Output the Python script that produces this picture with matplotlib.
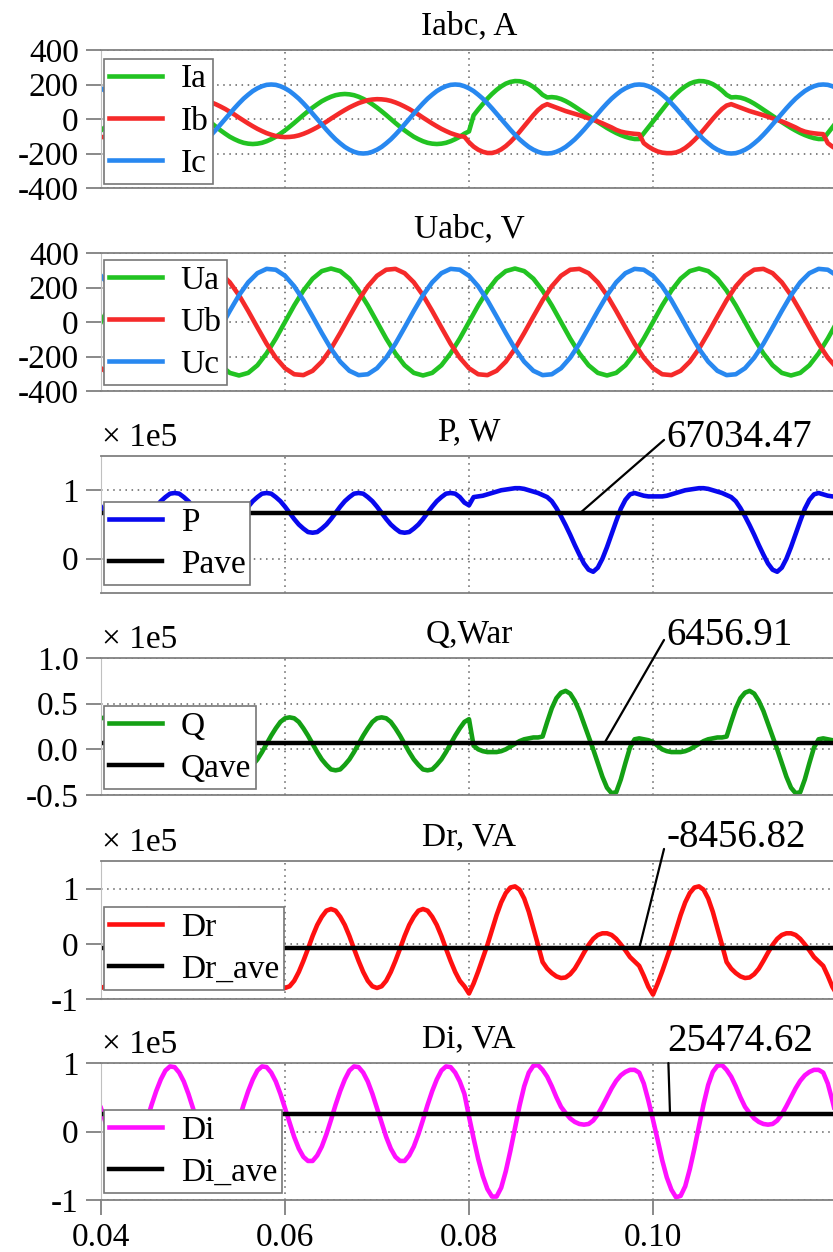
import numpy as np
import matplotlib
matplotlib.use("Agg")
import matplotlib.pyplot as plt

plt.rcParams['font.family'] = ['Liberation Serif', 'DejaVu Serif']
plt.rcParams['axes.unicode_minus'] = False

# time bases (s)
t = np.linspace(0.04, 0.12, 161)     # 0.5 ms step
t_u = np.linspace(0.04, 0.12, 81)    # 1 ms step

# ---- phase currents, A (0.5 ms step) ----
ia = [-66, -45, -23, 0, 23, 45, 66, 85, 103, 117, 129, 138, 143, 145, 143, 138, 129, 117, 103, 85,
      66, 45, 23, 0, -23, -45, -66, -85, -103, -117, -129, -138, -143, -145, -143, -138, -129, -117, -103, -85,
      -66, -45, -23, 0, 23, 45, 66, 85, 103, 117, 129, 138, 143, 145, 143, 138, 129, 117, 103, 85,
      66, 45, 23, 0, -23, -45, -66, -85, -103, -117, -129, -138, -143, -145, -143, -138, -129, -117, -103, -85,
      -72,
      21, 55, 87, 118, 145, 169, 189, 205, 215, 220, 219, 213, 202, 186, 165, 140, 125, 127, 124, 116,
      104, 89, 72, 54, 36, 18, 0, -18, -35, -52, -67, -81, -93, -103, -111, -116, -116, -82, -48, -14,
      21, 55, 87, 118, 145, 169, 189, 205, 215, 220, 219, 213, 202, 186, 165, 140, 125, 127, 124, 116,
      104, 89, 72, 54, 36, 18, 0, -18, -35, -52, -67, -81, -93, -103, -111, -116, -116, -82, -48, -14]

ib = [-105, -104, -101, -95, -86, -75, -62, -48, -32, -16, 2, 19, 36, 52, 67, 80, 92, 101, 109, 113,
      115, 114, 111, 105, 96, 85, 72, 58, 42, 26, 8, -9, -26, -42, -57, -70, -82, -91, -99, -103,
      -105, -104, -101, -95, -86, -75, -62, -48, -32, -16, 2, 19, 36, 52, 67, 80, 92, 101, 109, 113,
      115, 114, 111, 105, 96, 85, 72, 58, 42, 26, 8, -9, -26, -42, -57, -70, -82, -91, -99, -103,
      -135, -160, -178, -190, -197, -197, -190, -176, -157, -133, -105, -74, -42, -9, 23, 52, 74, 86,
      76, 66, 56, 46, 38, 30, 22, 13, 4, -5, -14, -25, -37, -49, -63, -73, -79, -83, -86, -88,
      -140, -160, -176, -188, -195, -198, -198, -194, -184, -168, -147, -122, -94, -63, -31, 1, 31, 58, 78, 86,
      76, 66, 56, 46, 38, 30, 22, 13, 4, -5, -14, -25, -37, -49, -63, -73, -79, -83, -86, -88,
      -140, -160, -176]

ic = [178, 162, 141, 118, 91, 62, 31, 0, -31, -62, -91, -118, -141, -162, -178, -190, -198, -200, -198, -190,
      -178, -162, -141, -118, -91, -62, -31, 0, 31, 62, 91, 118, 141, 162, 178, 190, 198, 200, 198, 190,
      178, 162, 141, 118, 91, 62, 31, 0, -31, -62, -91, -118, -141, -162, -178, -190, -198, -200, -198, -190,
      -178, -162, -141, -118, -91, -62, -31, 0, 31, 62, 91, 118, 141, 162, 178, 190, 198, 200, 198, 190,
      178, 162, 141, 118, 91, 62, 31, 0, -31, -62, -91, -118, -141, -162, -178, -190, -198, -200, -198, -190,
      -178, -162, -141, -118, -91, -62, -31, 0, 31, 62, 91, 118, 141, 162, 178, 190, 198, 200, 198, 190,
      178, 162, 141, 118, 91, 62, 31, 0, -31, -62, -91, -118, -141, -162, -178, -190, -198, -200, -198, -190,
      -178, -162, -141, -118, -91, -62, -31, 0, 31, 62, 91, 118, 141, 162, 178, 190, 198, 200, 198, 190,
      178]

# ---- phase voltages, V (1 ms step) ----
ua = [0, 96, 182, 251, 295, 310, 295, 251, 182, 96, 0, -96, -182, -251, -295, -310, -295, -251, -182, -96,
      0, 96, 182, 251, 295, 310, 295, 251, 182, 96, 0, -96, -182, -251, -295, -310, -295, -251, -182, -96,
      0, 96, 182, 251, 295, 310, 295, 251, 182, 96, 0, -96, -182, -251, -295, -310, -295, -251, -182, -96,
      0, 96, 182, 251, 295, 310, 295, 251, 182, 96, 0, -96, -182, -251, -295, -310, -295, -251, -182, -96,
      0]
ub = [-268, -303, -308, -283, -230, -155, -64, 32, 126, 207, 268, 303, 308, 283, 230, 155, 64, -32, -126, -207,
      -268, -303, -308, -283, -230, -155, -64, 32, 126, 207, 268, 303, 308, 283, 230, 155, 64, -32, -126, -207,
      -268, -303, -308, -283, -230, -155, -64, 32, 126, 207, 268, 303, 308, 283, 230, 155, 64, -32, -126, -207,
      -268, -303, -308, -283, -230, -155, -64, 32, 126, 207, 268, 303, 308, 283, 230, 155, 64, -32, -126, -207,
      -268]
uc = [268, 207, 126, 32, -64, -155, -230, -283, -308, -303, -268, -207, -126, -32, 64, 155, 230, 283, 308, 303,
      268, 207, 126, 32, -64, -155, -230, -283, -308, -303, -268, -207, -126, -32, 64, 155, 230, 283, 308, 303,
      268, 207, 126, 32, -64, -155, -230, -283, -308, -303, -268, -207, -126, -32, 64, 155, 230, 283, 308, 303,
      268, 207, 126, 32, -64, -155, -230, -283, -308, -303, -268, -207, -126, -32, 64, 155, 230, 283, 308, 303,
      268]

# ---- powers, in units of 1e5 (0.5 ms step) ----
p = [0.76, 0.67, 0.58, 0.50, 0.44, 0.39, 0.38, 0.39, 0.44, 0.50, 0.58, 0.67, 0.76, 0.84, 0.90, 0.95, 0.96, 0.95, 0.90, 0.84,
     0.76, 0.67, 0.58, 0.50, 0.44, 0.39, 0.38, 0.39, 0.44, 0.50, 0.58, 0.67, 0.76, 0.84, 0.90, 0.95, 0.96, 0.95, 0.90, 0.84,
     0.76, 0.67, 0.58, 0.50, 0.44, 0.39, 0.38, 0.39, 0.44, 0.50, 0.58, 0.67, 0.76, 0.84, 0.90, 0.95, 0.96, 0.95, 0.90, 0.84,
     0.76, 0.67, 0.58, 0.50, 0.44, 0.39, 0.38, 0.39, 0.44, 0.50, 0.58, 0.67, 0.76, 0.84, 0.90, 0.95, 0.96, 0.95, 0.90, 0.82,
     0.78,
     0.90, 0.91, 0.92, 0.94, 0.96, 0.98, 1.00, 1.01, 1.02, 1.03, 1.03, 1.02, 1.00, 0.98, 0.96, 0.93, 0.90, 0.84, 0.74, 0.62,
     0.49, 0.35, 0.20, 0.06, -0.07, -0.16, -0.19, -0.13, 0.00, 0.17, 0.36, 0.55, 0.73, 0.86, 0.94, 0.96, 0.94, 0.92, 0.91, 0.91,
     0.91, 0.91, 0.92, 0.94, 0.96, 0.98, 1.00, 1.01, 1.02, 1.03, 1.03, 1.02, 1.00, 0.98, 0.96, 0.93, 0.90, 0.84, 0.74, 0.62,
     0.49, 0.35, 0.20, 0.06, -0.07, -0.16, -0.19, -0.13, 0.00, 0.17, 0.36, 0.55, 0.73, 0.86, 0.94, 0.96, 0.94, 0.92, 0.91, 0.91]

q = [0.34, 0.35, 0.34, 0.30, 0.23, 0.15, 0.06, -0.03, -0.11, -0.17, -0.22, -0.23, -0.22, -0.17, -0.11, -0.03, 0.06, 0.15, 0.23, 0.30,
     0.34, 0.35, 0.34, 0.30, 0.23, 0.15, 0.06, -0.03, -0.11, -0.17, -0.22, -0.23, -0.22, -0.17, -0.11, -0.03, 0.06, 0.15, 0.23, 0.30,
     0.34, 0.35, 0.34, 0.30, 0.23, 0.15, 0.06, -0.03, -0.11, -0.17, -0.22, -0.23, -0.22, -0.17, -0.11, -0.03, 0.06, 0.15, 0.23, 0.30,
     0.34, 0.35, 0.34, 0.30, 0.23, 0.15, 0.06, -0.03, -0.11, -0.17, -0.22, -0.23, -0.22, -0.17, -0.11, -0.03, 0.06, 0.15, 0.23, 0.30,
     0.33,
     0.04, 0.00, -0.02, -0.03, -0.03, -0.03, -0.02, 0.00, 0.03, 0.06, 0.09, 0.11, 0.12, 0.13, 0.13, 0.14, 0.30, 0.45, 0.56, 0.62,
     0.64, 0.61, 0.53, 0.42, 0.28, 0.14, 0.00, -0.15, -0.30, -0.42, -0.48, -0.47, -0.33, -0.15, 0.02, 0.11, 0.12, 0.11, 0.10, 0.08,
     0.04, 0.00, -0.02, -0.03, -0.03, -0.03, -0.02, 0.00, 0.03, 0.06, 0.09, 0.11, 0.12, 0.13, 0.13, 0.14, 0.30, 0.45, 0.56, 0.62,
     0.64, 0.61, 0.53, 0.42, 0.28, 0.14, 0.00, -0.15, -0.30, -0.42, -0.48, -0.47, -0.33, -0.15, 0.02, 0.11, 0.12, 0.11, 0.10, 0.08]

dr = [-0.80, -0.77, -0.67, -0.51, -0.31, -0.09, 0.14, 0.34, 0.49, 0.60, 0.63, 0.60, 0.49, 0.34, 0.14, -0.09, -0.31, -0.51, -0.67, -0.77,
      -0.80, -0.77, -0.67, -0.51, -0.31, -0.09, 0.14, 0.34, 0.49, 0.60, 0.63, 0.60, 0.49, 0.34, 0.14, -0.09, -0.31, -0.51, -0.67, -0.77,
      -0.80, -0.77, -0.67, -0.51, -0.31, -0.09, 0.14, 0.34, 0.49, 0.60, 0.63, 0.60, 0.49, 0.34, 0.14, -0.09, -0.31, -0.51, -0.67, -0.77,
      -0.80, -0.77, -0.67, -0.51, -0.31, -0.09, 0.14, 0.34, 0.49, 0.60, 0.63, 0.60, 0.49, 0.34, 0.14, -0.09, -0.31, -0.51, -0.67, -0.77,
      -0.90,
      -0.72, -0.50, -0.26, -0.02, 0.25, 0.52, 0.75, 0.92, 1.02, 1.04, 0.98, 0.82, 0.58, 0.28, -0.02, -0.33, -0.45, -0.53, -0.59, -0.62,
      -0.61, -0.55, -0.45, -0.31, -0.16, -0.02, 0.09, 0.16, 0.19, 0.19, 0.16, 0.09, -0.01, -0.12, -0.24, -0.32, -0.40, -0.58, -0.78, -0.92,
      -0.72, -0.50, -0.26, -0.02, 0.25, 0.52, 0.75, 0.92, 1.02, 1.04, 0.98, 0.82, 0.58, 0.28, -0.02, -0.33, -0.45, -0.53, -0.59, -0.62,
      -0.61, -0.55, -0.45, -0.31, -0.16, -0.02, 0.09, 0.16, 0.19, 0.19, 0.16, 0.09, -0.01, -0.12, -0.24, -0.32, -0.40, -0.58, -0.78, -0.92]

di = [0.34, 0.13, -0.08, -0.25, -0.37, -0.43, -0.43, -0.35, -0.22, -0.04, 0.17, 0.39, 0.59, 0.76, 0.89, 0.95, 0.94, 0.86, 0.73, 0.55,
      0.34, 0.13, -0.08, -0.25, -0.37, -0.43, -0.43, -0.35, -0.22, -0.04, 0.17, 0.39, 0.59, 0.76, 0.89, 0.95, 0.94, 0.86, 0.73, 0.55,
      0.34, 0.13, -0.08, -0.25, -0.37, -0.43, -0.43, -0.35, -0.22, -0.04, 0.17, 0.39, 0.59, 0.76, 0.89, 0.95, 0.94, 0.86, 0.73, 0.55,
      0.34, 0.13, -0.08, -0.25, -0.37, -0.43, -0.43, -0.35, -0.22, -0.04, 0.17, 0.39, 0.59, 0.76, 0.89, 0.95, 0.94, 0.86, 0.73, 0.55,
      0.22,
      -0.10, -0.40, -0.65, -0.84, -0.95, -0.95, -0.82, -0.58, -0.28, 0.05, 0.38, 0.66, 0.86, 0.96, 0.97, 0.90, 0.80, 0.66, 0.50, 0.36,
      0.27, 0.19, 0.14, 0.11, 0.10, 0.11, 0.16, 0.25, 0.37, 0.50, 0.63, 0.74, 0.82, 0.87, 0.90, 0.90, 0.86, 0.70, 0.45, 0.17,
      -0.12, -0.42, -0.67, -0.85, -0.96, -0.94, -0.80, -0.55, -0.25, 0.08, 0.40, 0.68, 0.87, 0.96, 0.97, 0.90, 0.80, 0.66, 0.50, 0.36,
      0.27, 0.19, 0.14, 0.11, 0.10, 0.11, 0.16, 0.25, 0.37, 0.50, 0.63, 0.74, 0.82, 0.87, 0.90, 0.90, 0.86, 0.70, 0.45, 0.17]

# mean values (W / VAr / VA)
P_AVE = 67034.47
Q_AVE = 6456.91
DR_AVE = -8456.82
DI_AVE = 25474.62
SCALE = 1e5

x_ticks = [0.04, 0.06, 0.08, 0.10]
x_labels = ['0.04', '0.06', '0.08', '0.10']

for name, arr, base in [('ia', ia, t), ('ib', ib, t), ('ic', ic, t), ('p', p, t), ('q', q, t),
                        ('dr', dr, t), ('di', di, t), ('ua', ua, t_u), ('ub', ub, t_u), ('uc', uc, t_u)]:
    assert len(arr) == len(base), (name, len(arr))

GREEN = '#22c322'
RED = '#f52a2a'
BLUE = '#2888f0'
FS = 24

fig = plt.figure(figsize=(8.33, 12.52), dpi=100)

def make_axes(top_px, bot_px):
    # axes run past the right edge of the canvas, like in the original
    return fig.add_axes([101 / 833, 1 - bot_px / 1252, 736 / 833, (bot_px - top_px) / 1252])

def style_axes(ax, ylim, yticks, ylabels, title, last=False):
    ax.set_xlim(0.04, 0.12)
    ax.set_ylim(ylim)
    ax.set_yticks(yticks)
    ax.set_yticklabels(ylabels)
    ax.set_xticks(x_ticks)
    ax.tick_params(axis='both', direction='out', length=11, width=1.3, color='#808080',
                   labelsize=FS, pad=5)
    if last:
        ax.set_xticklabels(x_labels)
    else:
        ax.set_xticklabels([])
        ax.tick_params(axis='x', length=0)
    ax.grid(True, color='#606060', linestyle=(0, (1, 3)), linewidth=1.1)
    for side in ['top', 'bottom']:
        ax.spines[side].set_color('#808080')
        ax.spines[side].set_linewidth(1.3)
    ax.spines['right'].set_visible(False)
    ax.spines['left'].set_color('#c0c0c0')
    ax.spines['left'].set_linewidth(0.8)
    ax.set_title(title, fontsize=FS, pad=11)

def add_legend(ax, loc, anchor):
    leg = ax.legend(loc=loc, bbox_to_anchor=anchor, borderaxespad=0, fancybox=False,
                    framealpha=1, edgecolor='#777777', fontsize=FS, handlelength=1.6,
                    handletextpad=0.55, labelspacing=0.35, borderpad=0.15)
    leg.get_frame().set_linewidth(1.2)
    leg.set_zorder(5)

def add_scale(ax):
    ax.annotate('× 1e5', xy=(0, 1), xycoords='axes fraction', xytext=(1, 7),
                textcoords='offset points', ha='left', va='baseline', fontsize=FS)

def add_value(ax, value, x_pt, x_txt, y_txt):
    ax.annotate(f'{value:.2f}', xy=(x_pt, value / SCALE), xytext=(x_txt, y_txt),
                textcoords='data', ha='left', va='center', fontsize=28,
                annotation_clip=False,
                arrowprops=dict(arrowstyle='-', color='black', lw=1.6,
                                shrinkA=0, shrinkB=0, relpos=(0, 0.5)))

LW = 3.3

# 1. Currents
ax1 = make_axes(50, 188)
ax1.plot(t, ia, color=GREEN, lw=LW, label='Ia')
ax1.plot(t, ib, color=RED, lw=LW, label='Ib')
ax1.plot(t, ic, color=BLUE, lw=LW, label='Ic')
style_axes(ax1, (-400, 400), [-400, -200, 0, 200, 400],
           ['-400', '-200', '0', '200', '400'], 'Iabc, A')
add_legend(ax1, 'upper left', (0.004, 0.935))

# 2. Voltages
ax2 = make_axes(253, 391)
ax2.plot(t_u, ua, color=GREEN, lw=LW, label='Ua')
ax2.plot(t_u, ub, color=RED, lw=LW, label='Ub')
ax2.plot(t_u, uc, color=BLUE, lw=LW, label='Uc')
style_axes(ax2, (-400, 400), [-400, -200, 0, 200, 400],
           ['-400', '-200', '0', '200', '400'], 'Uabc, V')
add_legend(ax2, 'upper left', (0.004, 0.949))

# 3. Active power
ax3 = make_axes(456, 593)
ax3.plot(t, p, color='#0808ee', lw=LW, label='P')
ax3.axhline(P_AVE / SCALE, color='black', lw=3.2, label='Pave')
style_axes(ax3, (-0.5, 1.5), [0, 1], ['0', '1'], 'P, W')
add_legend(ax3, 'lower left', (0.004, 0.058))
add_scale(ax3)
add_value(ax3, P_AVE, 0.0921, 0.1015, 1.77)

# 4. Reactive power
ax4 = make_axes(658, 795)
ax4.plot(t, q, color='#14a014', lw=LW, label='Q')
ax4.axhline(Q_AVE / SCALE, color='black', lw=3.2, label='Qave')
style_axes(ax4, (-0.5, 1.0), [-0.5, 0.0, 0.5, 1.0], ['-0.5', '0.0', '0.5', '1.0'], 'Q,War')
add_legend(ax4, 'lower left', (0.004, 0.044))
add_scale(ax4)
add_value(ax4, Q_AVE, 0.0947, 0.1015, 1.25)

# 5. Distortion power, real part
ax5 = make_axes(861, 999)
ax5.plot(t, dr, color='#ff1010', lw=LW, label='Dr')
ax5.axhline(DR_AVE / SCALE, color='black', lw=3.2, label='Dr_ave')
style_axes(ax5, (-1.0, 1.5), [-1, 0, 1], ['-1', '0', '1'], 'Dr, VA')
add_legend(ax5, 'lower left', (0.004, 0.065))
add_scale(ax5)
add_value(ax5, DR_AVE, 0.0985, 0.1015, 1.92)

# 6. Distortion power, imaginary part
ax6 = make_axes(1063, 1200)
ax6.plot(t, di, color='#ff10ff', lw=LW, label='Di')
ax6.axhline(DI_AVE / SCALE, color='black', lw=3.2, label='Di_ave')
style_axes(ax6, (-1.0, 1.0), [-1, 0, 1], ['-1', '0', '1'], 'Di, VA', last=True)
add_legend(ax6, 'lower left', (0.004, 0.051))
add_scale(ax6)
add_value(ax6, DI_AVE, 0.10185, 0.1016, 1.31)

fig.savefig('out.png', dpi=100, facecolor='white')
